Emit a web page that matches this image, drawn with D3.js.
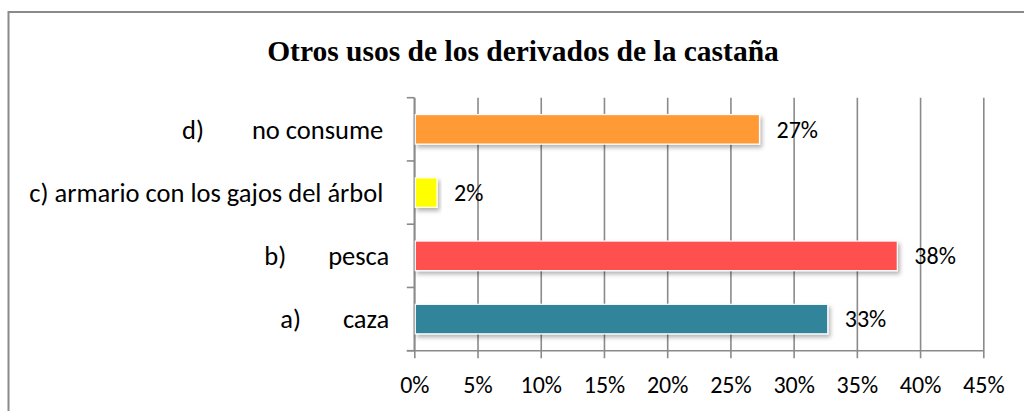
<!DOCTYPE html>
<html>
<head>
<meta charset="utf-8">
<script src="https://cdn.jsdelivr.net/npm/d3@7"></script>
<style>
  html, body { margin: 0; padding: 0; background: #fff; overflow: hidden; }
  svg { display: block; }
  .lbl { font-family: Carlito, Calibri, "Open Sans", sans-serif; white-space: pre; fill: #000; }
</style>
</head>
<body>
<svg id="chart" width="1024" height="411"></svg>
<script>
// Categories, top to bottom as drawn
const categories = [
  "d)        no consume ",
  "c) armario con los gajos del árbol ",
  "b)       pesca",
  "a)       caza"
];
const values = [0.273, 0.018, 0.382, 0.327];
const colors = ["#FF9A36", "#FFFF00", "#FF5050", "#31849B"];
const ticks = [0, 0.05, 0.10, 0.15, 0.20, 0.25, 0.30, 0.35, 0.40, 0.45];
const title = "Otros usos de los derivados de la castaña";

const svg = d3.select("#chart");
const plot = { left: 414.3, right: 983.3, top: 97.7, bottom: 350.7 };
const axisColor = "#8a8a8a";

// Outer chart frame: only its top and left sides fall inside the view
svg.append("path")
  .attr("d", "M8.5,440V12H1100")
  .attr("fill", "none")
  .attr("stroke", axisColor).attr("stroke-width", 2);

// Title
svg.append("text")
  .attr("x", 523).attr("y", 61)
  .attr("text-anchor", "middle")
  .attr("font-family", "'Liberation Serif', 'Times New Roman', serif")
  .attr("font-weight", "bold")
  .attr("font-size", 29.5)
  .text(title);

const x = d3.scaleLinear().domain([0, 0.45]).range([plot.left, plot.right]);
const y = d3.scaleBand().domain(categories).range([plot.top, plot.bottom]).padding(0);

const defs = svg.append("defs");
const f = defs.append("filter").attr("id", "shadow")
  .attr("x", "-10%").attr("y", "-30%").attr("width", "130%").attr("height", "180%");
f.append("feDropShadow")
  .attr("dx", 2).attr("dy", 3).attr("stdDeviation", 2)
  .attr("flood-color", "#000").attr("flood-opacity", 0.3);

// Vertical gridlines and x-axis tick labels
const xAxis = d3.axisBottom(x)
  .tickValues(ticks)
  .tickFormat(d3.format(".0%"))
  .tickSize(-(plot.bottom - plot.top))
  .tickPadding(0);

const gx = svg.append("g")
  .attr("transform", `translate(0,${plot.bottom})`)
  .call(xAxis);
gx.select(".domain").remove();
gx.selectAll(".tick line")
  .attr("y2", 7.5)
  .attr("y1", -(plot.bottom - plot.top))
  .attr("stroke", axisColor).attr("stroke-width", 1.6);
gx.selectAll(".tick text")
  .attr("class", "lbl")
  .attr("font-size", 24)
  .attr("y", 42)
  .attr("dy", 0);

// Horizontal axis line
svg.append("line")
  .attr("x1", plot.left - 7.5).attr("x2", plot.right)
  .attr("y1", plot.bottom).attr("y2", plot.bottom)
  .attr("stroke", axisColor).attr("stroke-width", 1.6);

// Y axis with category labels
const yAxis = d3.axisLeft(y).tickSize(0).tickPadding(25);
const gy = svg.append("g")
  .attr("transform", `translate(${plot.left},0)`)
  .call(yAxis);
gy.select(".domain").attr("stroke", axisColor).attr("stroke-width", 1.6)
  .attr("d", `M0,${plot.top}V${plot.bottom}`);
gy.selectAll(".tick text")
  .attr("class", "lbl")
  .attr("font-size", 26.5)
  .attr("dy", "0.35em");

// Category boundary ticks on the y axis
const bounds = categories.map(c => y(c)).concat([plot.bottom]);
svg.append("g").selectAll("line").data(bounds).join("line")
  .attr("x1", plot.left - 7.5).attr("x2", plot.left)
  .attr("y1", d => d).attr("y2", d => d)
  .attr("stroke", axisColor).attr("stroke-width", 1.6);

// Bars
const barH = y.bandwidth() * 0.467;
svg.append("g").selectAll("rect").data(values).join("rect")
  .attr("x", x(0) + 1)
  .attr("y", (d, i) => y(categories[i]) + (y.bandwidth() - barH) / 2)
  .attr("width", d => x(d) - x(0) - 1)
  .attr("height", barH)
  .attr("fill", (d, i) => colors[i])
  .attr("stroke", "#fff").attr("stroke-width", 1.2)
  .attr("filter", "url(#shadow)");

// Value labels
svg.append("g").selectAll("text").data(values).join("text")
  .attr("class", "lbl")
  .attr("font-size", 24)
  .attr("x", d => x(d) + 17)
  .attr("y", (d, i) => y(categories[i]) + y.bandwidth() / 2)
  .attr("dy", "0.35em")
  .text(d => d3.format(".0%")(d));
</script>
</body>
</html>
